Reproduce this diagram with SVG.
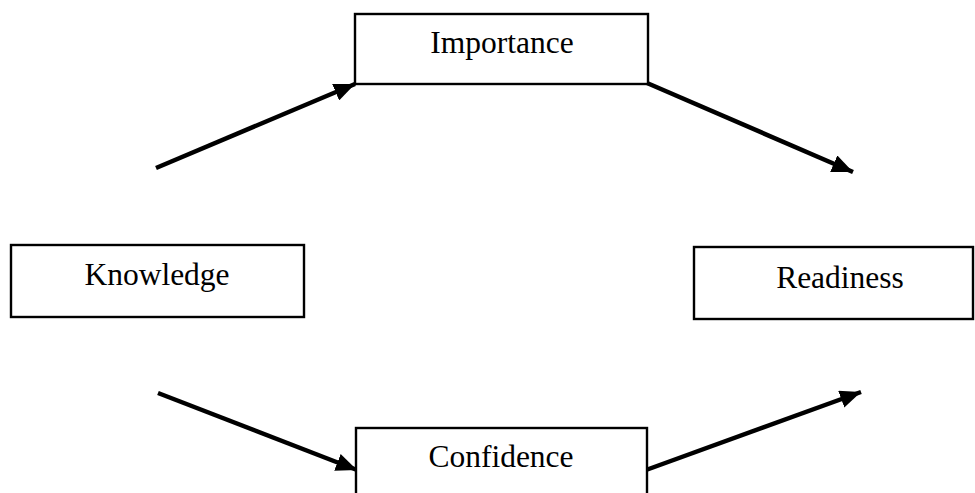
<svg xmlns="http://www.w3.org/2000/svg" width="975" height="493" viewBox="0 0 975 493">
  <style>
    .box { fill: #ffffff; stroke: #000000; stroke-width: 2.4; }
    .lbl { font-family: "Liberation Serif", "Times New Roman", serif; font-size: 31.5px; fill: #000000; text-anchor: middle; }
    .conn { stroke: #000000; stroke-width: 4.5; fill: none; marker-end: url(#arrow); }
  </style>
  <defs>
    <marker id="arrow" markerUnits="userSpaceOnUse" markerWidth="22" markerHeight="18" refX="21" refY="9" orient="auto">
      <path d="M0,0 L21,9 L0,18 Z" fill="#000000"/>
    </marker>
  </defs>
  <rect width="975" height="493" fill="#ffffff"/>
  <g id="connectors">
    <line class="conn" x1="156" y1="168" x2="355" y2="84"/>
    <line class="conn" x1="647" y1="83" x2="853" y2="172"/>
    <line class="conn" x1="158" y1="393" x2="357" y2="470"/>
    <line class="conn" x1="646" y1="470" x2="861" y2="392"/>
  </g>
  <g id="importance">
    <rect class="box" x="355" y="14" width="293" height="70"/>
    <text class="lbl" x="502" y="53">Importance</text>
  </g>
  <g id="knowledge">
    <rect class="box" x="11" y="245" width="293" height="72"/>
    <text class="lbl" x="157" y="285">Knowledge</text>
  </g>
  <g id="readiness">
    <rect class="box" x="694" y="247" width="279" height="72"/>
    <text class="lbl" x="840" y="288">Readiness</text>
  </g>
  <g id="confidence">
    <rect class="box" x="356" y="428" width="291" height="80"/>
    <text class="lbl" x="501" y="467">Confidence</text>
  </g>
</svg>
